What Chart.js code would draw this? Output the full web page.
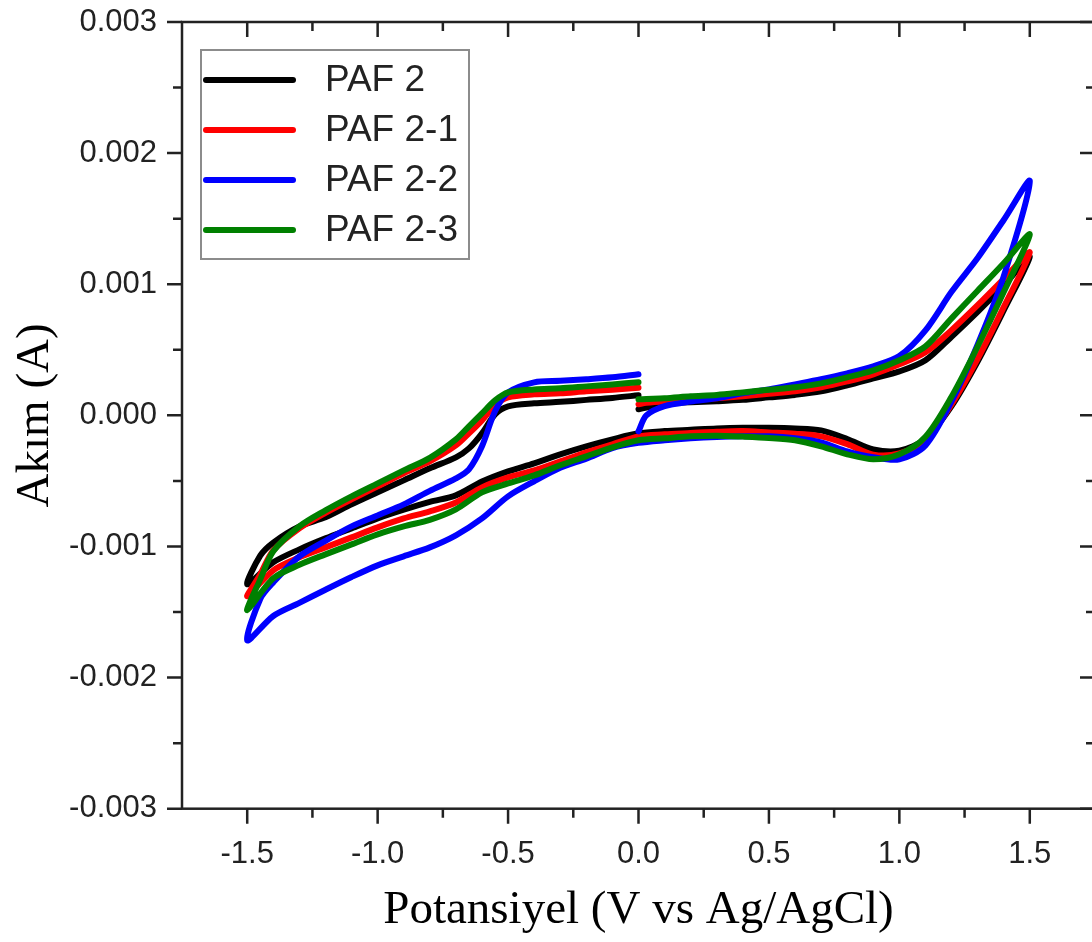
<!DOCTYPE html>
<html>
<head>
<meta charset="utf-8">
<title>PAF 2 CV</title>
<script src="https://cdn.jsdelivr.net/npm/chart.js@4.4.1/dist/chart.umd.min.js"></script>
<style>
  html, body { margin: 0; padding: 0; background: #fff; overflow: hidden; }
  #wrap { width: 1092px; height: 942px; overflow: hidden; }
</style>
</head>
<body>
<div id="wrap"><canvas id="cv" width="1100" height="942"></canvas></div>
<script>
// scan path: 0 V -> +1.5 V -> -1.5 V -> 0 V
const scanV = [
    0, 0.03, 0.1, 0.2, 0.3, 0.4, 0.5, 0.6, 0.7, 0.8, 0.9, 1.0, 1.1, 1.2, 1.3, 1.4, 1.5,
    1.4, 1.3, 1.2, 1.1, 1.0, 0.9, 0.8, 0.7, 0.6, 0.5, 0.4, 0.3, 0.2, 0.1, 0.0,
    -0.1, -0.2, -0.3, -0.4, -0.5, -0.6, -0.7, -0.8, -0.9, -1.0, -1.1, -1.2, -1.3, -1.4, -1.5,
    -1.45, -1.4, -1.3, -1.2, -1.1, -1.0, -0.9, -0.8, -0.7, -0.65, -0.6, -0.55, -0.5, -0.4, -0.3, -0.2, -0.1, 0.0
];

// currents in mA along the scan path
const paf2 = [
    0.046, 0.06, 0.092, 0.099, 0.107, 0.118, 0.137, 0.156, 0.183, 0.229, 0.282, 0.335, 0.42, 0.60, 0.79, 0.99, 1.21,
    0.80, 0.41, 0.07, -0.18, -0.27, -0.26, -0.18, -0.115, -0.10, -0.095, -0.095, -0.10, -0.11, -0.12, -0.137,
    -0.183, -0.236, -0.297, -0.366, -0.427, -0.505, -0.61, -0.66, -0.72, -0.786, -0.862, -0.938, -1.022, -1.121, -1.289,
    -1.07, -0.97, -0.847, -0.778, -0.679, -0.587, -0.496, -0.404, -0.32, -0.252, -0.137, 0.008, 0.069, 0.092, 0.103, 0.118, 0.133, 0.153
];
const paf2_1 = [
    0.084, 0.095, 0.107, 0.118, 0.13, 0.145, 0.164, 0.183, 0.214, 0.259, 0.313, 0.389, 0.481, 0.65, 0.84, 1.04, 1.243,
    0.825, 0.431, 0.084, -0.187, -0.29, -0.30, -0.22, -0.16, -0.14, -0.13, -0.12, -0.125, -0.135, -0.145, -0.16,
    -0.221, -0.282, -0.351, -0.42, -0.473, -0.549, -0.664, -0.732, -0.786, -0.854, -0.931, -1.007, -1.083, -1.182, -1.38,
    -1.213, -1.03, -0.862, -0.744, -0.641, -0.542, -0.442, -0.351, -0.229, -0.137, -0.038, 0.076, 0.137, 0.16, 0.168, 0.183, 0.195, 0.21
];
const paf2_2 = [
    -0.122, 0.0, 0.071, 0.105, 0.13, 0.168, 0.198, 0.236, 0.275, 0.32, 0.374, 0.452, 0.648, 0.942, 1.20, 1.49, 1.787,
    1.06, 0.54, 0.107, -0.229, -0.335, -0.32, -0.275, -0.206, -0.175, -0.16, -0.16, -0.165, -0.175, -0.19, -0.21,
    -0.25, -0.33, -0.40, -0.503, -0.618, -0.786, -0.915, -1.007, -1.075, -1.144, -1.233, -1.33, -1.43, -1.53, -1.716,
    -1.40, -1.274, -1.076, -0.957, -0.847, -0.763, -0.679, -0.576, -0.481, -0.412, -0.236, 0.031, 0.175, 0.252, 0.263, 0.275, 0.29, 0.313
];
const paf2_3 = [
    0.122, 0.125, 0.13, 0.145, 0.156, 0.175, 0.195, 0.214, 0.244, 0.29, 0.343, 0.42, 0.526, 0.74, 0.95, 1.16, 1.38,
    0.94, 0.525, 0.142, -0.163, -0.297, -0.335, -0.297, -0.236, -0.19, -0.172, -0.162, -0.155, -0.16, -0.175, -0.19,
    -0.244, -0.313, -0.381, -0.458, -0.519, -0.587, -0.717, -0.797, -0.847, -0.908, -0.984, -1.06, -1.14, -1.243, -1.487,
    -1.251, -1.037, -0.847, -0.725, -0.618, -0.519, -0.42, -0.324, -0.183, -0.084, 0.015, 0.114, 0.175, 0.198, 0.206, 0.221, 0.236, 0.252
];

const seriesNames = ['PAF 2', 'PAF 2-1', 'PAF 2-2', 'PAF 2-3'];
const seriesColors = ['#000000', '#ff0000', '#0000ff', '#008000'];
const seriesCurrents = [paf2, paf2_1, paf2_2, paf2_3];
const drawOrder = [3, 2, 1, 0]; // green ends up on top

const xTicks = [-1.5, -1.0, -0.5, 0.0, 0.5, 1.0, 1.5];
const yTicks = [-0.003, -0.002, -0.001, 0, 0.001, 0.002, 0.003];

const sansFont = '"Liberation Sans", Arial, sans-serif';
const serifFont = '"Liberation Serif", "Times New Roman", serif';
const inkColor = '#222';

function midpoints(arr) {
    return arr.slice(1).map((v, i) => (v + arr[i]) / 2);
}

// box around the plot, outward ticks left/bottom, inward ticks top/right
const frameTicks = {
    id: 'frameTicks',
    afterDraw(chart) {
        const { ctx, chartArea: a, scales: { x, y } } = chart;
        ctx.save();
        ctx.strokeStyle = inkColor;
        ctx.lineWidth = 2.5;
        ctx.strokeRect(a.left, a.top, a.right - a.left, a.bottom - a.top);

        ctx.beginPath();
        const xMark = (v, len) => {
            const px = x.getPixelForValue(v);
            ctx.moveTo(px, a.bottom); ctx.lineTo(px, a.bottom + len);
            ctx.moveTo(px, a.top); ctx.lineTo(px, a.top + len);
        };
        const yMark = (v, len) => {
            const py = y.getPixelForValue(v);
            ctx.moveTo(a.left, py); ctx.lineTo(a.left - len, py);
            ctx.moveTo(a.right, py); ctx.lineTo(a.right - len, py);
        };
        xTicks.forEach(v => xMark(v, 15));
        midpoints(xTicks).forEach(v => xMark(v, 9));
        yTicks.forEach(v => yMark(v, 15));
        midpoints(yTicks).forEach(v => yMark(v, 9));
        ctx.stroke();
        ctx.restore();
    }
};

// legend box in the upper left corner of the plot
const boxLegend = {
    id: 'boxLegend',
    afterDraw(chart) {
        const { ctx, chartArea: a } = chart;
        const left = a.left + 19;
        const top = a.top + 28;
        ctx.save();
        ctx.fillStyle = '#fff';
        ctx.fillRect(left, top, 268, 209);
        ctx.strokeStyle = '#8c8c8c';
        ctx.lineWidth = 2;
        ctx.strokeRect(left, top, 268, 209);
        ctx.font = '37px ' + sansFont;
        ctx.textBaseline = 'middle';
        chart.data.datasets.forEach((ds, i) => {
            const yy = top + 30 + i * 50;
            ctx.strokeStyle = ds.borderColor;
            ctx.lineWidth = 6;
            ctx.lineCap = 'round';
            ctx.beginPath();
            ctx.moveTo(left + 5, yy);
            ctx.lineTo(left + 92, yy);
            ctx.stroke();
            ctx.fillStyle = inkColor;
            ctx.fillText(ds.label, left + 124, yy + 1);
        });
        ctx.restore();
    }
};

const datasets = seriesNames.map((name, i) => ({
    label: name,
    data: scanV.map((v, k) => ({ x: v, y: seriesCurrents[i][k] / 1000 })),
    borderColor: seriesColors[i],
    backgroundColor: seriesColors[i],
    borderWidth: 6,
    borderCapStyle: 'round',
    borderJoinStyle: 'round',
    pointRadius: 0,
    tension: 0.3,
    showLine: true,
    order: drawOrder[i]
}));

new Chart(document.getElementById('cv'), {
    type: 'scatter',
    data: { datasets },
    options: {
        responsive: false,
        animation: false,
        devicePixelRatio: 1,
        layout: { padding: { top: 22, right: 5, bottom: 0, left: 0 } },
        plugins: {
            legend: { display: false },
            tooltip: { enabled: false }
        },
        scales: {
            x: {
                type: 'linear',
                position: 'bottom',
                min: -1.75,
                max: 1.75,
                afterBuildTicks: s => { s.ticks = xTicks.map(v => ({ value: v })); },
                afterFit: s => { s.height = 133.3; s.paddingLeft = 0; s.paddingRight = 0; },
                grid: { display: false, drawTicks: false },
                border: { display: false },
                ticks: {
                    padding: 27,
                    color: inkColor,
                    font: { family: sansFont, size: 31 },
                    callback: v => v.toFixed(1)
                },
                title: {
                    display: true,
                    text: 'Potansiyel (V vs Ag/AgCl)',
                    color: '#000',
                    font: { family: serifFont, size: 47 },
                    padding: { top: 0, bottom: 3 }
                }
            },
            y: {
                type: 'linear',
                min: -0.003,
                max: 0.003,
                afterBuildTicks: s => { s.ticks = yTicks.map(v => ({ value: v })); },
                afterFit: s => { s.width = 182; s.paddingTop = 0; s.paddingBottom = 0; },
                grid: { display: false, drawTicks: false },
                border: { display: false },
                ticks: {
                    padding: 25,
                    color: inkColor,
                    font: { family: sansFont, size: 31 },
                    callback: v => v.toFixed(3)
                },
                title: {
                    display: true,
                    text: 'Akım (A)',
                    color: '#000',
                    font: { family: serifFont, size: 47 },
                    padding: { top: 7, bottom: 0 }
                }
            }
        }
    },
    plugins: [frameTicks, boxLegend]
});
</script>
</body>
</html>
